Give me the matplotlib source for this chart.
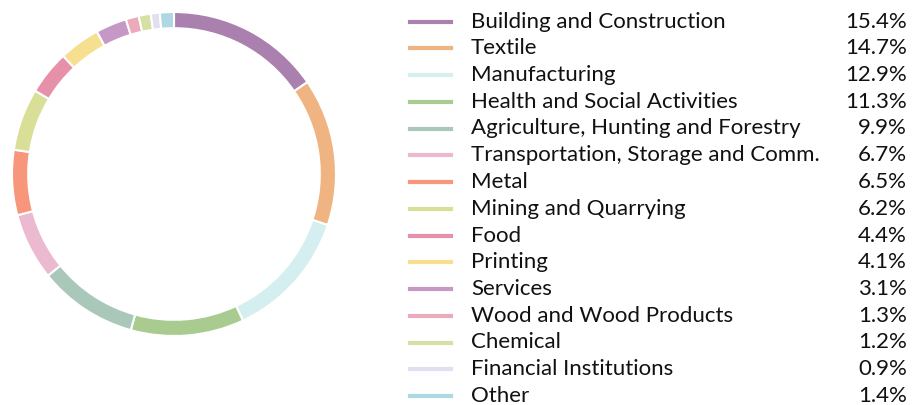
import matplotlib.pyplot as plt
from matplotlib.lines import Line2D

plt.rcParams['font.family'] = ['Lato', 'DejaVu Sans']

sectors = [
    "Building and Construction",
    "Textile",
    "Manufacturing",
    "Health and Social Activities",
    "Agriculture, Hunting and Forestry",
    "Transportation, Storage and Comm.",
    "Metal",
    "Mining and Quarrying",
    "Food",
    "Printing",
    "Services",
    "Wood and Wood Products",
    "Chemical",
    "Financial Institutions",
    "Other",
]
shares = [15.4, 14.7, 12.9, 11.3, 9.9, 6.7, 6.5, 6.2, 4.4, 4.1, 3.1, 1.3, 1.2, 0.9, 1.4]
colors = ["#AA81AE", "#F0B482", "#D5EEEF", "#A9CB8F", "#A9C8BA", "#EBBAD1", "#F7967A",
          "#D9DF97", "#E790AA", "#F6DF8E", "#C698C5", "#EBABBA", "#D6DFA4", "#E3DFF0", "#AED8E3"]

W, H = 918, 405
fig = plt.figure(figsize=(W / 100, H / 100), dpi=100)

# donut: centre (174, 174) px, outer radius ~162 px
cx, cy, r = 174, 174, 162
ax = fig.add_axes([(cx - r) / W, 1 - (cy + r) / H, 2 * r / W, 2 * r / H])
ax.pie(shares, colors=colors, startangle=90, counterclock=False, radius=1,
       wedgeprops=dict(width=0.1, edgecolor="white", linewidth=1.5))
ax.set_xlim(-1, 1)
ax.set_ylim(-1, 1)
ax.set_aspect("equal")
ax.axis("off")

# legend rows
y0, dy = 21.5, 26.75
for i, (name, val, c) in enumerate(zip(sectors, shares, colors)):
    y = 1 - (y0 + i * dy) / H
    fig.add_artist(Line2D([410 / W, 451 / W], [y, y], color=c, lw=3,
                          transform=fig.transFigure))
    fig.text(471 / W, y, name, fontsize=16, color="#111111", va="center", ha="left")
    fig.text(907 / W, y, f"{val:.1f}%", fontsize=16, color="#111111", va="center", ha="right")

fig.savefig("out.png", dpi=100)
